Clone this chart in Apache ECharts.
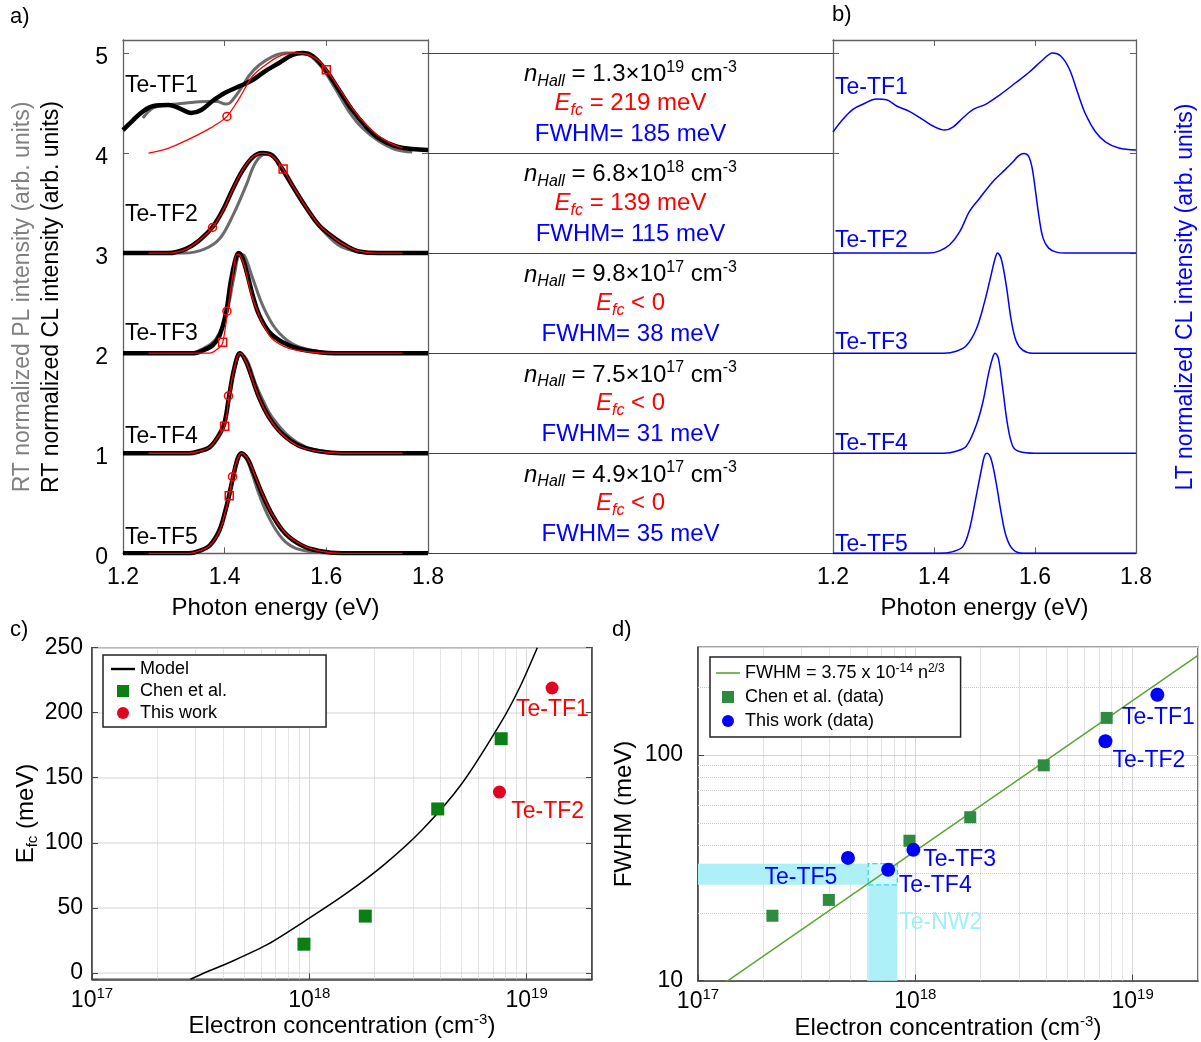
<!DOCTYPE html>
<html><head><meta charset="utf-8">
<script src="https://cdn.jsdelivr.net/npm/echarts@6/dist/echarts.min.js"></script>
<style>html,body{margin:0;padding:0;background:#fff}#c{width:1201px;height:1042px}</style>
</head><body><div id="c"></div>
<script>
const F = '"Liberation Sans", Arial, Helvetica, sans-serif';

// ---------- panel a/b : spectra ----------
const samples = ['Te-TF1', 'Te-TF2', 'Te-TF3', 'Te-TF4', 'Te-TF5'];
const energyTicks = [1.2, 1.4, 1.6, 1.8];

const clTF1 = [[1.20,4.23],[1.22,4.33],[1.24,4.42],[1.26,4.47],[1.29,4.48],[1.31,4.45],[1.334,4.40],[1.354,4.43],[1.376,4.52],[1.40,4.60],[1.43,4.67],[1.455,4.73],[1.48,4.82],[1.507,4.90],[1.533,4.98],[1.553,5.0],[1.573,4.97],[1.599,4.83],[1.625,4.63],[1.651,4.43],[1.677,4.27],[1.703,4.15],[1.736,4.07],[1.769,4.04],[1.80,4.03]];
const clTF2 = [[1.20,3.0],[1.29,3.0],[1.324,3.043],[1.35,3.126],[1.376,3.259],[1.396,3.425],[1.416,3.641],[1.435,3.824],[1.455,3.957],[1.474,4.0],[1.494,3.975],[1.514,3.834],[1.533,3.674],[1.56,3.458],[1.586,3.276],[1.618,3.143],[1.644,3.06],[1.664,3.017],[1.703,3.0],[1.80,3.0]];
const clTF3 = [[1.20,2.0],[1.34,2.0],[1.357,2.027],[1.376,2.077],[1.39,2.178],[1.403,2.413],[1.412,2.715],[1.422,2.95],[1.4275,3.0],[1.435,2.95],[1.445,2.78],[1.455,2.58],[1.468,2.38],[1.488,2.21],[1.514,2.11],[1.546,2.044],[1.586,2.01],[1.62,2.0],[1.80,2.0]];
const clTF4 = [[1.20,1.0],[1.33,1.0],[1.35,1.02],[1.37,1.059],[1.386,1.158],[1.399,1.29],[1.409,1.58],[1.419,1.85],[1.43,2.0],[1.442,1.917],[1.455,1.736],[1.468,1.554],[1.4876,1.356],[1.5137,1.19],[1.546,1.076],[1.586,1.02],[1.63,1.0],[1.80,1.0]];
const clTF5 = [[1.20,0],[1.33,0],[1.35,0.024],[1.37,0.075],[1.3895,0.228],[1.4026,0.449],[1.409,0.585],[1.417,0.772],[1.4255,0.942],[1.4327,1.0],[1.445,0.942],[1.458,0.79],[1.4745,0.585],[1.494,0.381],[1.52,0.194],[1.553,0.075],[1.5856,0.024],[1.63,0],[1.80,0]];

const plTF1 = [[1.239,4.35],[1.259,4.45],[1.285,4.48],[1.324,4.50],[1.363,4.515],[1.385,4.515],[1.402,4.49],[1.41,4.50],[1.43,4.63],[1.449,4.78],[1.468,4.88],[1.494,4.965],[1.52,5.0],[1.546,5.0],[1.566,4.98],[1.592,4.85],[1.618,4.64],[1.644,4.42],[1.671,4.25],[1.703,4.12],[1.736,4.035],[1.769,4.01]];
const plTF2 = [[1.24,3.0],[1.32,3.0],[1.36,3.04],[1.39,3.143],[1.416,3.375],[1.442,3.674],[1.461,3.907],[1.481,3.99],[1.50,3.94],[1.52,3.807],[1.546,3.575],[1.573,3.359],[1.599,3.193],[1.625,3.076],[1.651,3.027],[1.69,3.0],[1.77,3.0]];
const plTF3 = [[1.24,2.0],[1.33,2.0],[1.357,2.044],[1.383,2.144],[1.403,2.38],[1.419,2.78],[1.43,2.99],[1.438,2.98],[1.455,2.75],[1.4745,2.48],[1.50,2.245],[1.533,2.094],[1.573,2.027],[1.62,2.0],[1.77,2.0]];
const plTF4 = [[1.24,1.0],[1.33,1.0],[1.35,1.02],[1.37,1.06],[1.386,1.16],[1.399,1.29],[1.409,1.57],[1.42,1.86],[1.432,1.99],[1.445,1.92],[1.4614,1.686],[1.478,1.5],[1.494,1.356],[1.527,1.165],[1.56,1.06],[1.60,1.015],[1.64,1.0],[1.77,1.0]];
const plTF5 = [[1.24,0],[1.33,0],[1.35,0.024],[1.37,0.075],[1.3895,0.228],[1.4026,0.45],[1.417,0.78],[1.43,0.99],[1.442,0.95],[1.455,0.78],[1.468,0.585],[1.488,0.347],[1.514,0.143],[1.54,0.05],[1.58,0.01],[1.62,0],[1.77,0]];

const fitTF1 = [[1.25,4.0],[1.29,4.05],[1.33,4.14],[1.363,4.225],[1.385,4.29],[1.4045,4.366],[1.429,4.55],[1.455,4.77],[1.481,4.883],[1.507,4.967],[1.533,5.0],[1.56,4.99],[1.586,4.92],[1.60,4.833],[1.625,4.65],[1.651,4.45],[1.677,4.29],[1.703,4.17],[1.73,4.09],[1.75,4.05]];
const fitTF2 = [[1.25,3.0],[1.29,3.0],[1.324,3.04],[1.35,3.13],[1.376,3.255],[1.396,3.42],[1.416,3.64],[1.435,3.83],[1.455,3.96],[1.474,4.0],[1.494,3.97],[1.515,3.84],[1.533,3.68],[1.56,3.46],[1.586,3.28],[1.618,3.14],[1.644,3.06],[1.664,3.02],[1.70,3.0],[1.75,3.0]];
const fitTF3 = [[1.25,2.0],[1.37,2.0],[1.39,2.06],[1.396,2.10],[1.406,2.42],[1.416,2.78],[1.424,2.99],[1.43,2.98],[1.44,2.85],[1.455,2.547],[1.4876,2.178],[1.52,2.06],[1.56,2.015],[1.60,2.0],[1.75,2.0]];
const fitTF4 = [[1.25,1.0],[1.33,1.0],[1.35,1.02],[1.37,1.06],[1.386,1.16],[1.40,1.274],[1.409,1.58],[1.419,1.85],[1.43,2.0],[1.442,1.915],[1.455,1.73],[1.468,1.55],[1.4876,1.35],[1.5137,1.185],[1.546,1.07],[1.586,1.018],[1.63,1.0],[1.75,1.0]];
const fitTF5 = [[1.25,0],[1.33,0],[1.35,0.024],[1.37,0.075],[1.39,0.228],[1.403,0.449],[1.409,0.58],[1.4155,0.77],[1.425,0.94],[1.433,1.0],[1.445,0.945],[1.458,0.795],[1.4745,0.59],[1.494,0.385],[1.52,0.2],[1.553,0.08],[1.586,0.025],[1.63,0],[1.75,0]];

const fitCircles = [[1.4045,4.366],[1.376,3.256],[1.4045,2.42],[1.4075,1.573],[1.4155,0.766]];
const fitSquares = [[1.60,4.833],[1.515,3.84],[1.396,2.11],[1.40,1.27],[1.409,0.576]];

const ltTF1 = [[1.20,4.21],[1.22,4.34],[1.24,4.44],[1.26,4.49],[1.286,4.54],[1.306,4.533],[1.326,4.47],[1.352,4.414],[1.378,4.334],[1.398,4.27],[1.421,4.23],[1.4375,4.26],[1.457,4.35],[1.477,4.434],[1.503,4.49],[1.53,4.58],[1.5625,4.705],[1.589,4.81],[1.615,4.93],[1.635,5.0],[1.651,4.97],[1.668,4.84],[1.684,4.61],[1.70,4.39],[1.72,4.21],[1.74,4.11],[1.766,4.05],[1.80,4.03]];
const ltTF2 = [[1.20,3.0],[1.39,3.0],[1.411,3.023],[1.431,3.083],[1.451,3.215],[1.47,3.414],[1.49,3.546],[1.516,3.712],[1.536,3.81],[1.556,3.91],[1.568,3.975],[1.578,3.995],[1.587,3.97],[1.594,3.86],[1.601,3.62],[1.608,3.36],[1.616,3.15],[1.627,3.05],[1.642,3.01],[1.66,3.0],[1.80,3.0]];
const ltTF3 = [[1.20,2.0],[1.42,2.0],[1.444,2.02],[1.4638,2.074],[1.4836,2.24],[1.50,2.51],[1.513,2.78],[1.521,2.946],[1.526,3.0],[1.533,2.946],[1.543,2.68],[1.5526,2.34],[1.5625,2.124],[1.5757,2.03],[1.595,2.0],[1.80,2.0]];
const ltTF4 = [[1.20,1.0],[1.42,1.0],[1.444,1.02],[1.4638,1.07],[1.4836,1.28],[1.4967,1.51],[1.5086,1.81],[1.5164,1.96],[1.521,2.0],[1.5276,1.946],[1.536,1.65],[1.546,1.275],[1.556,1.07],[1.569,1.017],[1.60,1.0],[1.80,1.0]];
const ltTF5 = [[1.20,0],[1.41,0],[1.4375,0.017],[1.457,0.067],[1.47,0.236],[1.4836,0.572],[1.4934,0.825],[1.50,0.976],[1.505,1.0],[1.513,0.943],[1.523,0.707],[1.533,0.404],[1.543,0.168],[1.556,0.04],[1.5757,0],[1.80,0]];

const rtLabelAt = [[1.201,4.67],[1.201,3.38],[1.201,2.20],[1.201,1.17],[1.201,0.16]];
const ltLabelAt = [[1.201,4.65],[1.201,3.12],[1.201,2.11],[1.201,1.10],[1.201,0.09]];

// ---------- middle column ----------
const nHall = ['1.3', '6.8', '9.8', '7.5', '4.9'];
const nExp = ['19', '18', '17', '17', '17'];
const efcText = ['= 219 meV', '= 139 meV', '< 0', '< 0', '< 0'];
const fwhmText = ['185', '115', '38', '31', '35'];
const cellLines = [0, 1, 2, 3, 4, 5];

// ---------- panel c ----------
const modelEfc = [[2.84e17,-5],[3.3e17,0],[4.37e17,8.5],[6.46e17,22],[1.0e18,42],[1.48e18,61],[2.24e18,84],[3.31e18,110],[5.01e18,145],[7.59e18,192],[9.33e18,220],[1.12e19,250]];
const chenEfc = [[9.45e17,22],[1.81e18,43.6],[3.9e18,126],[7.64e18,180]];
const workEfc = [[1.31e19,219],[7.5e18,139]];
const efcLabels = ['Te-TF1', 'Te-TF2'];
const efcLabelAt = [[8.8e18,202],[8.36e18,124]];

// ---------- panel d ----------
const fwhmFit = [[1e17,8.1],[2e19,276]];
const chenFwhm = [[2.2e17,19.4],[4.0e17,22.8],[9.4e17,41.7],[1.79e18,53],[3.9e18,90],[7.6e18,146]];
const workFwhm = [[4.9e17,35],[7.5e17,31],[9.8e17,38],[7.5e18,115],[1.3e19,185]];
const fwhmLabels = ['Te-TF1', 'Te-TF2', 'Te-TF3', 'Te-TF4', 'Te-TF5'];
const fwhmLabelAt = [[8.8e18,147],[7.95e18,94],[1.07e18,34.3],[8.27e17,26.5],[1.99e17,28.5]];
const nw2N = [6.07e17, 8.27e17];
const nw2F = [26.6, 33];
const nw2LabelAt = [8.3e17, 18.0];

const minorN = [2e17,3e17,4e17,5e17,6e17,7e17,8e17,9e17,2e18,3e18,4e18,5e18,6e18,7e18,8e18,9e18];
const minorF = [20,30,40,50,60,70,80,90,200];

// ---------- build ----------
const clData = [clTF1, clTF2, clTF3, clTF4, clTF5];
const plData = [plTF1, plTF2, plTF3, plTF4, plTF5];
const fitData = [fitTF1, fitTF2, fitTF3, fitTF4, fitTF5];
const ltData = [ltTF1, ltTF2, ltTF3, ltTF4, ltTF5];

const spine = '#606060';
const hidden = {show:false};
function specX(gi, pos, labels) {
  return {gridIndex: gi, type: 'value', min: energyTicks[0], max: energyTicks[energyTicks.length-1], interval: 0.2, position: pos,
    axisLine: {onZero: false, lineStyle: {color: spine, width: 1.3}},
    axisTick: {inside: true, length: 6, lineStyle: {color: spine}},
    axisLabel: labels ? {color: '#000', fontSize: 23, margin: 11, lineHeight: 26, fontFamily: F, formatter: v => v.toFixed(1)} : hidden,
    splitLine: hidden,
    name: labels ? 'Photon energy (eV)' : '', nameLocation: 'middle', nameGap: 41,
    nameTextStyle: {fontSize: 24, color: '#000', lineHeight: 28, fontFamily: F}};
}
function specY(gi, pos, labels) {
  return {gridIndex: gi, type: 'value', min: 0, max: 5.13, interval: 1, position: pos,
    axisLine: {onZero: false, lineStyle: {color: spine, width: 1.3}},
    axisTick: {inside: true, length: 6, lineStyle: {color: spine}},
    axisLabel: labels ? {margin: 15, formatter: v => (Math.abs(v - Math.round(v)) < 1e-6 ? '{d|' + Math.round(v) + '}' : ''),
      rich: {d: {fontSize: 23, color: '#000', fontFamily: F, padding: [9, 0, 0, 0]}}} : hidden,
    splitLine: hidden};
}
const supRich = {
  b: {fontSize: 23, lineHeight: 28, color: '#000', fontFamily: F},
  n: {fontSize: 24, lineHeight: 28, color: '#000', fontFamily: F},
  sup: {fontSize: 15, lineHeight: 14, verticalAlign: 'top', color: '#000', fontFamily: F},
  sub: {fontSize: 15, lineHeight: 12, verticalAlign: 'bottom', color: '#000', fontFamily: F}
};
function pow10Label(v) {
  const e = Math.round(Math.log10(v));
  if (Math.abs(v / Math.pow(10, e) - 1) < 1e-6) return '{b|10}{sup|' + e + '}';
  return '';
}
function logX(gi) {
  return {gridIndex: gi, type: 'log', logBase: 10, min: 1e17, max: 2e19,
    axisLine: {onZero: false, lineStyle: {color: '#444', width: 1.5}},
    axisTick: {inside: true, length: 6, lineStyle: {color: '#444'}},
    axisLabel: {formatter: pow10Label, rich: supRich, margin: 7, showMaxLabel: false},
    splitLine: {show: true, lineStyle: {color: '#d6d6d6', width: 1}},
    name: '{n|Electron concentration (cm}{sup|-3}{n|)}', nameLocation: 'middle', nameGap: 33,
    nameTextStyle: {rich: supRich}};
}

const grids = [
  {left: 123, top: 40, width: 305, height: 513.3},
  {left: 428, top: 40, width: 405, height: 513.3},
  {left: 833, top: 40, width: 303, height: 513.3},
  {left: 92, top: 647.7, width: 500, height: 331.6, show: true, borderColor: '#444', borderWidth: 1.5},
  {left: 698, top: 647.3, width: 500, height: 333.4, show: true, borderColor: '#444', borderWidth: 1.5}
];

const xAxes = [
  specX(0, 'bottom', true), specX(0, 'top', false),
  {gridIndex: 1, type: 'value', min: 0, max: 1, show: false},
  specX(2, 'bottom', true), specX(2, 'top', false),
  logX(3), logX(4)
];
const yAxes = [
  specY(0, 'left', true), specY(0, 'right', false),
  {gridIndex: 1, type: 'value', min: 0, max: 5.13, show: false},
  specY(2, 'left', false), specY(2, 'right', false),
  {gridIndex: 3, type: 'value', min: -5, max: 250, splitNumber: 5,
    axisLine: {onZero: false, lineStyle: {color: '#444', width: 1.5}},
    axisTick: {inside: true, length: 6, lineStyle: {color: '#444'}},
    axisLabel: {color: '#000', fontSize: 23, margin: 9, fontFamily: F, formatter: v => (Math.abs(v % 50) < 1e-9 ? String(v) : '')},
    splitLine: {show: true, lineStyle: {color: '#e2e2e2', width: 1.5}},
    name: '{n|E}{sub|fc}{n| (meV)}', nameLocation: 'middle', nameGap: 46, nameRotate: 90, nameTextStyle: {rich: supRich}},
  {gridIndex: 4, type: 'log', logBase: 10, min: 10, max: 300,
    axisLine: {onZero: false, lineStyle: {color: '#444', width: 1.5}},
    axisTick: {inside: true, length: 6, lineStyle: {color: '#444'}},
    axisLabel: {color: '#000', fontSize: 23, margin: 15, fontFamily: F, showMaxLabel: false,
      formatter: v => { const e = Math.round(Math.log10(v)); return Math.abs(v / Math.pow(10, e) - 1) < 1e-6 ? String(Math.round(v)) : ''; }},
    splitLine: {show: true, lineStyle: {color: '#d6d6d6', width: 1}},
    name: 'FWHM (meV)', nameLocation: 'middle', nameGap: 62, nameRotate: 90, nameTextStyle: {fontSize: 24, color: '#000', fontFamily: F}},
  {gridIndex: 3, type: 'value', min: -5, max: 250, splitNumber: 5, position: 'right',
    axisLine: {onZero: false, lineStyle: {color: '#444', width: 1.5}},
    axisTick: {inside: true, length: 6, lineStyle: {color: '#444'}},
    axisLabel: hidden, splitLine: hidden}
];

const series = [];
const transparent = {color: 'rgba(0,0,0,0)', opacity: 1};
function labelSeries(xi, yi, pts, texts, color, z) {
  return {type: 'scatter', xAxisIndex: xi, yAxisIndex: yi, data: pts.map((p, i) => [p[0], p[1], texts[i]]),
    symbolSize: 1, itemStyle: transparent, silent: true, z: z || 8,
    label: {show: true, position: 'right', distance: 1, formatter: p => p.data[2], fontSize: 23, color: color, opacity: 1, fontFamily: F, textBorderWidth: 0}};
}
function gridLines(xi, yi, xs, ys) {
  return {type: 'line', xAxisIndex: xi, yAxisIndex: yi, data: [], z: 1,
    markLine: {silent: true, z: 1, symbol: ['none', 'none'], label: {show: false}, animation: false,
      lineStyle: {color: '#c9c9c9', width: 1, type: 'dotted'},
      data: xs.map(v => ({xAxis: v})).concat(ys.map(v => ({yAxis: v})))}};
}

// panel a
plData.forEach(d => series.push({type: 'line', xAxisIndex: 0, yAxisIndex: 0, data: d, smooth: 0.35, symbol: 'none', showSymbol: false, lineStyle: {color: '#6b6b6b', width: 3}, z: 2}));
clData.forEach(d => series.push({type: 'line', xAxisIndex: 0, yAxisIndex: 0, data: d, smooth: 0.35, symbol: 'none', showSymbol: false, lineStyle: {color: '#000', width: 4.5}, z: 3}));
fitData.forEach(d => series.push({type: 'line', xAxisIndex: 0, yAxisIndex: 0, data: d, smooth: 0.35, symbol: 'none', showSymbol: false, lineStyle: {color: '#ff0000', width: 1.3}, z: 4}));
series.push({type: 'scatter', xAxisIndex: 0, yAxisIndex: 0, data: fitCircles, symbol: 'circle', symbolSize: 8, itemStyle: {color: 'rgba(0,0,0,0)', borderColor: '#ff0000', borderWidth: 1.5, opacity: 1}, z: 5});
series.push({type: 'scatter', xAxisIndex: 0, yAxisIndex: 0, data: fitSquares, symbol: 'rect', symbolSize: 8, itemStyle: {color: 'rgba(0,0,0,0)', borderColor: '#ff0000', borderWidth: 1.5, opacity: 1}, z: 5});
series.push(labelSeries(0, 0, rtLabelAt, samples, '#000'));

// middle column
series.push({type: 'line', xAxisIndex: 2, yAxisIndex: 2, data: [], z: 1,
  markLine: {silent: true, z: 1, symbol: ['none', 'none'], label: {show: false}, animation: false,
    lineStyle: {color: '#404040', width: 1.2, type: 'solid'}, data: cellLines.map(v => ({yAxis: v}))}});
const midRich = {
  n: {fontSize: 24, fontStyle: 'italic', lineHeight: 30, color: '#000', fontFamily: F},
  ns: {fontSize: 16, fontStyle: 'italic', lineHeight: 13, verticalAlign: 'bottom', color: '#000', fontFamily: F},
  t: {fontSize: 24, lineHeight: 30, color: '#000', fontFamily: F},
  sup: {fontSize: 16, lineHeight: 15, verticalAlign: 'top', color: '#000', fontFamily: F},
  e: {fontSize: 24, fontStyle: 'italic', lineHeight: 30, color: '#ff0000', fontFamily: F},
  es: {fontSize: 16, fontStyle: 'italic', lineHeight: 13, verticalAlign: 'bottom', color: '#ff0000', fontFamily: F},
  r: {fontSize: 24, lineHeight: 30, color: '#ff0000', fontFamily: F},
  bl: {fontSize: 24, lineHeight: 30, color: '#0000ff', fontFamily: F}
};
function midSeries(offset, fmt) {
  return {type: 'scatter', xAxisIndex: 2, yAxisIndex: 2, data: nHall.map((n, i) => [0.5, 5 - i - offset]),
    symbolSize: 1, itemStyle: transparent, silent: true, z: 6,
    label: {show: true, position: 'inside', color: '#000', opacity: 1, textBorderWidth: 0, formatter: p => fmt(p.dataIndex), rich: midRich}};
}
series.push(midSeries(0.217, i => '{n|n}{ns|Hall}{t| = ' + nHall[i] + '×10}{sup|' + nExp[i] + '}{t| cm}{sup|-3}'));
series.push(midSeries(0.503, i => '{e|E}{es|fc}{r| ' + efcText[i] + '}'));
series.push(midSeries(0.815, i => '{bl|FWHM= ' + fwhmText[i] + ' meV}'));

// panel b
ltData.forEach(d => series.push({type: 'line', xAxisIndex: 3, yAxisIndex: 3, data: d, smooth: 0.35, symbol: 'none', showSymbol: false, lineStyle: {color: '#0000ff', width: 1.5}, z: 3}));
series.push(labelSeries(3, 3, ltLabelAt, samples, '#0000ff'));

// panel c
series.push(gridLines(5, 5, minorN, []));
series.push({name: 'Model', type: 'line', xAxisIndex: 5, yAxisIndex: 5, data: modelEfc, smooth: 0.25, symbol: 'none', showSymbol: false, lineStyle: {color: '#000', width: 1.5}, itemStyle: {color: '#000'}, z: 3});
series.push({name: 'Chen et al.', type: 'scatter', xAxisIndex: 5, yAxisIndex: 5, data: chenEfc, symbol: 'rect', symbolSize: 13, itemStyle: {color: '#0a7f14', opacity: 1}, z: 4});
series.push({name: 'This work', type: 'scatter', xAxisIndex: 5, yAxisIndex: 5, data: workEfc, symbol: 'circle', symbolSize: 13, itemStyle: {color: '#e0061f', opacity: 1}, z: 4});
series.push(labelSeries(5, 5, efcLabelAt, efcLabels, '#ff0000'));

// panel d
const fitName = 'fit';
series.push(gridLines(6, 6, minorN, minorF));
series.push({type: 'line', xAxisIndex: 6, yAxisIndex: 6, data: [], z: 2,
  markArea: {silent: true, z: 2, label: {show: false}, animation: false, data: [
    [{xAxis: 1e17, yAxis: nw2F[0], itemStyle: {color: '#aef0f8', opacity: 1}}, {xAxis: nw2N[0], yAxis: nw2F[1]}],
    [{xAxis: nw2N[0], yAxis: 10, itemStyle: {color: '#aef0f8', opacity: 1}}, {xAxis: nw2N[1], yAxis: nw2F[0]}],
    [{xAxis: nw2N[0], yAxis: nw2F[0], itemStyle: {color: '#d2f7fc', opacity: 1, borderColor: '#2fdcee', borderWidth: 1.3, borderType: 'dashed'}}, {xAxis: nw2N[1], yAxis: nw2F[1]}]
  ]}});
series.push({name: fitName, type: 'line', xAxisIndex: 6, yAxisIndex: 6, data: fwhmFit, symbol: 'none', showSymbol: false, lineStyle: {color: '#58a632', width: 1.5}, itemStyle: {color: '#58a632'}, z: 3});
series.push({name: 'Chen et al. (data)', type: 'scatter', xAxisIndex: 6, yAxisIndex: 6, data: chenFwhm, symbol: 'rect', symbolSize: 12, itemStyle: {color: '#2e8b40', opacity: 1}, z: 4});
series.push({name: 'This work (data)', type: 'scatter', xAxisIndex: 6, yAxisIndex: 6, data: workFwhm, symbol: 'circle', symbolSize: 14, itemStyle: {color: '#0000ff', opacity: 1}, z: 5});
series.push(labelSeries(6, 6, fwhmLabelAt, fwhmLabels, '#0000ff'));
series.push(labelSeries(6, 6, [nw2LabelAt], ['Te-NW2'], '#a0f0f8'));

const sq = 'path://M0,0L10,0L10,10L0,10Z';
const lineIcon = 'path://M0,0L24,0L24,2.4L0,2.4Z';
const option = {
  animation: false,
  backgroundColor: '#fff',
  textStyle: {fontFamily: F},
  grid: grids,
  xAxis: xAxes,
  yAxis: yAxes,
  legend: [
    {left: 103, top: 655, orient: 'vertical', itemWidth: 24, itemHeight: 12, itemGap: 4,
      padding: [5, 99, 5, 8], borderColor: '#222', borderWidth: 1.5, backgroundColor: '#fff',
      textStyle: {fontSize: 18, color: '#000', fontFamily: F}, selectedMode: false,
      data: [{name: 'Model', icon: lineIcon, itemStyle: {color: '#000'}}, {name: 'Chen et al.', icon: sq}, {name: 'This work', icon: 'circle'}]},
    {left: 710, top: 657, orient: 'vertical', itemWidth: 24, itemHeight: 12, itemGap: 4,
      padding: [6, 16, 6, 6], borderColor: '#222', borderWidth: 1.5, backgroundColor: '#fff',
      textStyle: {fontSize: 18, color: '#000', lineHeight: 20, fontFamily: F,
        rich: {m: {fontSize: 18, lineHeight: 20, fontFamily: F, color: '#000'}, s: {fontSize: 12, lineHeight: 12, verticalAlign: 'top', fontFamily: F, color: '#000'}}},
      selectedMode: false,
      formatter: name => name === fitName ? '{m|FWHM = 3.75 x 10}{s|-14}{m| n}{s|2/3}' : name,
      data: [{name: fitName, icon: 'path://M0,0L24,0L24,1.6L0,1.6Z', itemStyle: {color: '#58a632'}}, {name: 'Chen et al. (data)', icon: sq}, {name: 'This work (data)', icon: 'circle'}]}
  ],
  graphic: [
    {type: 'text', left: 10, top: 6, style: {text: 'a)', font: '22px ' + F, fill: '#000'}},
    {type: 'text', left: 832, top: 4, style: {text: 'b)', font: '22px ' + F, fill: '#000'}},
    {type: 'text', left: 10, top: 619, style: {text: 'c)', font: '22px ' + F, fill: '#000'}},
    {type: 'text', left: 612, top: 619, style: {text: 'd)', font: '22px ' + F, fill: '#000'}},
    {type: 'text', x: 23, y: 297, rotation: Math.PI / 2, style: {text: 'RT normalized PL intensity (arb. units)', font: '23px ' + F, fill: '#808080', align: 'center', verticalAlign: 'middle', textAlign: 'center', textVerticalAlign: 'middle'}},
    {type: 'text', x: 52, y: 297, rotation: Math.PI / 2, style: {text: 'RT normalized CL intensity (arb. units)', font: '23px ' + F, fill: '#000', align: 'center', verticalAlign: 'middle', textAlign: 'center', textVerticalAlign: 'middle'}},
    {type: 'text', x: 1186, y: 297, rotation: Math.PI / 2, style: {text: 'LT normalized CL intensity (arb. units)', font: '23px ' + F, fill: '#0000ff', align: 'center', verticalAlign: 'middle', textAlign: 'center', textVerticalAlign: 'middle'}}
  ],
  series: series
};
const chart = echarts.init(document.getElementById('c'), null, {renderer: 'canvas'});
chart.setOption(option);
</script></body></html>
